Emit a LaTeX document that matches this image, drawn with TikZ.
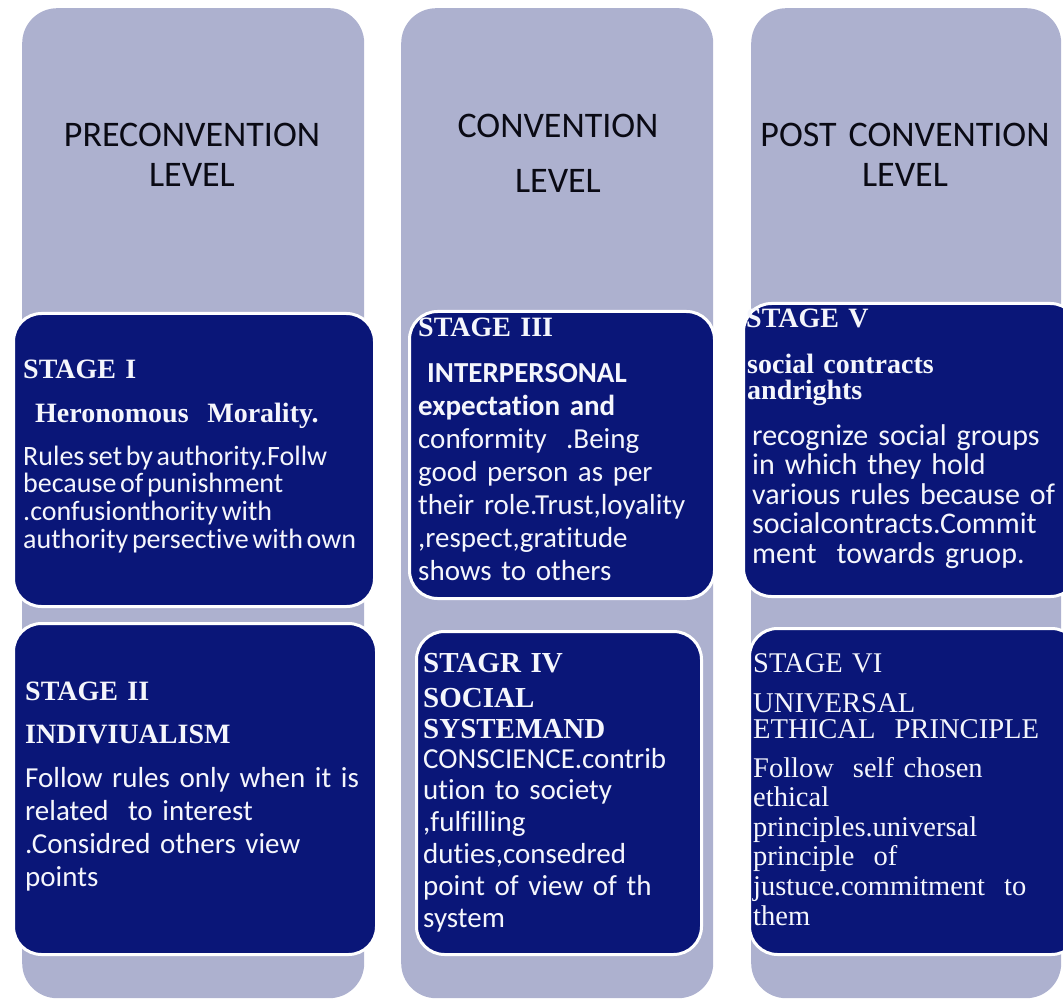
\documentclass[tikz,border=0pt]{standalone}
\usepackage{fontspec}
\newfontfamily\bodyfont[Ligatures=NoCommon]{Carlito}
\newfontfamily\titlefont{Liberation Serif}
\definecolor{levelgray}{RGB}{173,177,207}
\definecolor{stagenavy}{RGB}{10,22,120}
\definecolor{headink}{RGB}{10,10,20}
\definecolor{stageink}{RGB}{245,246,252}
\newcommand{\tightwords}{\spaceskip=0.13em\relax}

\tikzset{
  levelcol/.style={fill=levelgray, draw=none, rounded corners=35pt, inner sep=0pt, anchor=north west},
  stagebox/.style={fill=stagenavy, draw=white, line width=3pt, rounded corners=28pt, inner sep=0pt, anchor=north west},
  head/.style={anchor=base, text width=320pt, align=center, inner sep=0pt, text=headink,
               font=\bodyfont\fontsize{36}{40}\selectfont},
  txt/.style={anchor=base west, inner sep=0pt, text width=440pt, align=left, text=stageink},
  sertitle/.style={txt, font=\titlefont\bfseries\fontsize{28}{43}\selectfont},
}

\begin{document}
\begin{tikzpicture}[x=1pt, y=1pt]
  \useasboundingbox (0,0) rectangle (1063,-1000);
  \clip (0,0) rectangle (1063,-1000);

  % level columns
  \node[levelcol, minimum width=342pt, minimum height=990pt] (col1) at (22,-8) {};
  \node[levelcol, minimum width=312pt, minimum height=990pt] (col2) at (401,-8) {};
  \node[levelcol, minimum width=310pt, minimum height=990pt] (col3) at (751,-8) {};

  % level headings
  \node[head] (h1) at (192,-147) {PRECONVENTION\\LEVEL};
  \node[head] (h2) at (558,-138) {CONVENTION\\[15pt]LEVEL};
  \node[head] (h3) at (905,-147) {POST CONVENTION\\LEVEL};

  % stage boxes
  \node[stagebox, minimum width=361pt, minimum height=293pt] (s1) at (12,-312) {};
  \node[stagebox, minimum width=363pt, minimum height=331pt] (s2) at (12,-622) {};
  \node[stagebox, minimum width=305pt, minimum height=287pt] (s3) at (408,-310) {};
  \node[stagebox, minimum width=285pt, minimum height=323pt] (s4) at (415,-630) {};
  \node[stagebox, minimum width=335pt, minimum height=293pt] (s5) at (742,-302) {};
  \node[stagebox, minimum width=330pt, minimum height=326pt] (s6) at (748,-627) {};

  % stage I
  \node[sertitle, font=\titlefont\bfseries\fontsize{28}{44}\selectfont] (s1t) at (23,-378)
    {STAGE I\\\hspace*{12pt}Heronomous\ \ Morality.};
  \node[txt, font=\bodyfont\fontsize{28}{27.7}\selectfont] (s1b) at (23,-465)
    {\tightwords Rules set by authority.Follw\\because of punishment\\.confusionthority with\\authority persective with own};

  % stage II
  \node[sertitle] (s2t) at (25,-700) {STAGE II\\INDIVIUALISM};
  \node[txt, font=\bodyfont\fontsize{29}{33.3}\selectfont] (s2b) at (25,-787)
    {Follow rules only when it is\\related\ \ to interest\\.Considred others view\\points};

  % stage III
  \node[sertitle] (s3t) at (418,-337) {STAGE III};
  \node[txt, font=\bodyfont\fontsize{29}{33}\selectfont] (s3b) at (418,-382)
    {{\bfseries\hspace*{9pt}INTERPERSONAL}\\{\bfseries expectation and}\\conformity\ \ .Being\\good person as per\\their role.Trust,loyality\\,respect,gratitude\\shows to others};

  % stage IV
  \node[sertitle, font=\titlefont\bfseries\fontsize{29}{31}\selectfont] (s4t) at (423,-672)
    {STAGR IV\\[4pt]SOCIAL\\SYSTEMAND};
  \node[txt, font=\bodyfont\fontsize{29}{31.8}\selectfont] (s4b) at (423,-768)
    {CONSCIENCE.contrib\\ution to society\\,fulfilling\\duties,consedred\\point of view of th\\system};

  % stage V
  \node[sertitle] (s5t) at (746,-328) {STAGE V};
  \node[sertitle, font=\titlefont\bfseries\fontsize{28}{27}\selectfont] (s5s) at (747,-373)
    {social contracts\\andrights};
  \node[txt, font=\bodyfont\fontsize{30}{29.5}\selectfont] (s5b) at (752,-445)
    {recognize social groups\\in which they hold\\various rules because of\\socialcontracts.Commit\\ment\ \ towards gruop.};

  % stage VI
  \node[txt, font=\titlefont\fontsize{28.5}{26}\selectfont] (s6t) at (753,-672) {STAGE VI};
  \node[txt, font=\titlefont\fontsize{28.6}{26}\selectfont] (s6s) at (753,-712)
    {UNIVERSAL\\ETHICAL\ \ PRINCIPLE};
  \node[txt, font=\titlefont\fontsize{28.5}{29.6}\selectfont] (s6b) at (753,-777)
    {Follow\ \ self chosen\\ethical\\principles.universal\\principle\ \ of\\justuce.commitment\ \ to\\them};
\end{tikzpicture}
\end{document}
